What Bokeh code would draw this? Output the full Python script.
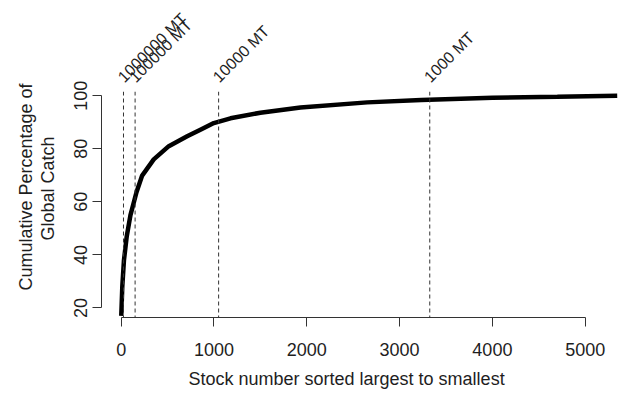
from math import pi
from bokeh.plotting import figure
from bokeh.models import Range1d, Span, FixedTicker, LinearAxis, Title
from bokeh.embed import file_html
from bokeh.resources import INLINE

# ---- data ----
stock_rank = [1, 12, 30, 60, 100, 165, 226, 351, 513, 711, 854, 998, 1178,
              1500, 1932, 2651, 3233, 4000, 4700, 5345]
cum_pct = [17, 28, 38, 47, 55, 63.6, 69.9, 76, 81, 84.7, 87.2, 89.7, 91.5,
           93.6, 95.6, 97.5, 98.4, 99.2, 99.6, 100]
threshold_rank = [25, 150, 1050, 3325]
threshold_labels = ["1000000 MT", "100000 MT", "10000 MT", "1000 MT"]
x_ticks = [0, 1000, 2000, 3000, 4000, 5000]
y_ticks = [20, 40, 60, 80, 100]

FONT = "Liberation Sans"
TXT = "#1e1e1e"

p = figure(width=626, height=393, output_backend="svg", toolbar_location=None,
           x_range=Range1d(-212, 5445), y_range=Range1d(16.4, 101.6),
           min_border_left=101, min_border_right=0, min_border_top=88,
           min_border_bottom=76)
p.outline_line_color = None
p.grid.visible = False
p.background_fill_color = "white"
p.border_fill_color = "white"
# range used only to nudge the slanted threshold labels a few pixels left
p.extra_x_ranges = {"lab": Range1d(-212 + 32, 5445 + 32)}

# threshold lines
for r in threshold_rank:
    p.add_layout(Span(location=r, dimension="height", line_color="#333333",
                      line_width=1, line_dash="4 3"))

# curve
p.line(stock_rank, cum_pct, line_width=4.5, line_color="black")

# axes, R style
for ax, ticks in ((p.xaxis, x_ticks), (p.yaxis, y_ticks)):
    ax.ticker = FixedTicker(ticks=ticks)
    ax.bounds = (ticks[0], ticks[-1])
    ax.major_tick_out = 9
    ax.major_tick_in = 0
    ax.minor_tick_line_color = None
    ax.axis_line_color = "#333333"
    ax.major_tick_line_color = "#333333"
    ax.major_label_text_font = FONT
    ax.major_label_text_font_size = "18px"
    ax.major_label_text_color = TXT

p.xaxis.major_label_standoff = 16
p.yaxis.major_label_orientation = "vertical"
p.yaxis.major_label_standoff = 5


def spacer(size, tick):
    # invisible axis (one hidden tick) that only reserves room before a title
    return LinearAxis(ticker=FixedTicker(ticks=[tick]), major_tick_out=size,
                      major_tick_in=0, major_label_standoff=0,
                      major_label_overrides={tick: ""},
                      major_label_text_font_size="1px",
                      axis_line_color=None, major_tick_line_color=None,
                      minor_tick_line_color=None)


def ttl(text, offset):
    return Title(text=text, align="left", offset=offset, standoff=0,
                 text_font=FONT, text_font_size="18px", text_color=TXT,
                 text_font_style="normal")


p.add_layout(spacer(8, x_ticks[0]), "below")
p.add_layout(ttl("Stock number sorted largest to smallest", 87), "below")
p.add_layout(spacer(14, y_ticks[0]), "left")
p.add_layout(ttl("Global Catch", 77), "left")
p.add_layout(ttl("Cumulative Percentage of", 27), "left")

# threshold labels as a bare axis above the frame
top = LinearAxis(x_range_name="lab", ticker=FixedTicker(ticks=threshold_rank),
                 major_label_overrides={r: t for r, t in zip(threshold_rank, threshold_labels)},
                 major_label_orientation=pi / 4, axis_line_color=None,
                 major_tick_line_color=None, minor_tick_line_color=None,
                 major_label_standoff=6, major_label_text_font=FONT,
                 major_label_text_font_size="16px", major_label_text_color=TXT)
p.add_layout(top, "above")

open("out.html", "w").write(file_html(p, INLINE))
